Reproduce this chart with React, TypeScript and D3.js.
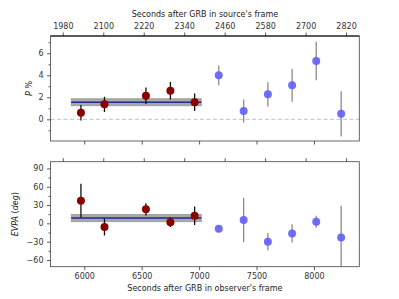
import { useEffect, useRef } from 'react';
import { axisBottom, axisLeft, axisTop, range, scaleLinear, select } from 'd3';

// observer-frame times (s) and measurements
const obsTime = [5971, 6176, 6537, 6750, 6961, 7171, 7388, 7599, 7810, 8020, 8237];
const polarization = [0.6, 1.36, 2.15, 2.6, 1.55, 4.0, 0.75, 2.27, 3.1, 5.3, 0.5];
const polErr = [0.7, 0.7, 0.75, 0.8, 0.8, 0.9, 1.05, 1.1, 1.5, 1.75, 2.05];
const evpa = [37, -6, 23, 2, 12.5, -9, 5.4, -30, -16.5, 2.6, -23];
const evpaErr = [28, 14, 10, 8, 15, 4, 36, 14, 15, 10, 52];
const nEarly = 5;

// weighted mean over early epochs
const meanSpan = [5887, 7019];
const meanP = [1.55, 0.32];
const meanEvpa = [8.7, 6];

const oneZ = 2.936;
const obsTicks = [6000, 6500, 7000, 7500, 8000];
const srcTicks = [1980, 2100, 2220, 2340, 2460, 2580, 2700, 2820];
const pTicks = [0, 2, 4, 6];
const pMinor = [-1, 1, 3, 5, 7];
const evpaTicks = [-60, -30, 0, 30, 60, 90];
const evpaMinor = [-45, -15, 15, 45, 75];

const W = 399;
const H = 299;
const left = 50.5;
const right = 359.3;
const panels = [
  { top: 36, bottom: 141 },
  { top: 161.7, bottom: 266.7 },
];

const font = 'DejaVu Sans, sans-serif';
const fmt = (d: any) => (d < 0 ? `\u2212${-d}` : `${d}`);

export default function App() {
  const svgRef = useRef<SVGSVGElement>(null);

  useEffect(() => {
    const svg = select(svgRef.current);
    svg.selectAll('*').remove();

    const x = scaleLinear().domain([5706, 8395]).range([left, right]);
    const xs = scaleLinear()
      .domain([5706 / oneZ, 8395 / oneZ])
      .range([left, right]);

    const yP = scaleLinear().domain([-1.97, 7.57]).range([panels[0].bottom, panels[0].top]);
    const yE = scaleLinear().domain([-71, 101]).range([panels[1].bottom, panels[1].top]);

    const styleAxis = (g: any, noLabels = false) => {
      g.select('.domain').remove();
      g.selectAll('line').attr('stroke', '#333').attr('stroke-width', 0.8);
      g.selectAll('text')
        .attr('fill', '#333')
        .style('font-family', font)
        .style('font-size', '8px');
      if (noLabels) g.selectAll('text').remove();
    };

    const drawPanel = (
      idx: number,
      y: any,
      vals: number[],
      errs: number[],
      mean: number[],
      ticks: number[],
      minor: number[],
      yLabel: string,
      yLabelX: number,
    ) => {
      const { top, bottom } = panels[idx];
      const g = svg.append('g');

      // mean band
      g.append('rect')
        .attr('x', x(meanSpan[0]))
        .attr('y', y(mean[0] + mean[1]))
        .attr('width', x(meanSpan[1]) - x(meanSpan[0]))
        .attr('height', y(mean[0] - mean[1]) - y(mean[0] + mean[1]))
        .attr('fill', '#a9a9a9')
        .attr('stroke', '#999')
        .attr('stroke-width', 0.8);
      g.append('line')
        .attr('x1', x(meanSpan[0]))
        .attr('x2', x(meanSpan[1]))
        .attr('y1', y(mean[0]))
        .attr('y2', y(mean[0]))
        .attr('stroke', '#1c2a94')
        .attr('stroke-width', 1.6);

      if (idx === 0) {
        g.append('line')
          .attr('x1', left)
          .attr('x2', right)
          .attr('y1', y(0))
          .attr('y2', y(0))
          .attr('stroke', '#b0b0b0')
          .attr('stroke-width', 0.8)
          .attr('stroke-dasharray', '4,2.5');
      }

      const clipId = `clip${idx}`;
      svg
        .append('clipPath')
        .attr('id', clipId)
        .append('rect')
        .attr('x', left)
        .attr('y', top)
        .attr('width', right - left)
        .attr('height', bottom - top);

      const pts = range(vals.length);
      g.append('g')
        .attr('clip-path', `url(#${clipId})`)
        .selectAll('line')
        .data(pts)
        .join('line')
        .attr('x1', (i) => x(obsTime[i]))
        .attr('x2', (i) => x(obsTime[i]))
        .attr('y1', (i) => y(vals[i] - errs[i]))
        .attr('y2', (i) => y(vals[i] + errs[i]))
        .attr('stroke', (i) => (i < nEarly ? '#111' : '#8a8a8a'))
        .attr('stroke-width', 1.3);

      g.append('g')
        .selectAll('circle')
        .data(pts)
        .join('circle')
        .attr('cx', (i) => x(obsTime[i]))
        .attr('cy', (i) => y(vals[i]))
        .attr('r', 4)
        .attr('fill', (i) => (i < nEarly ? '#8b0000' : '#5f5ff7'))
        .attr('fill-opacity', (i) => (i < nEarly ? 1 : 0.9));

      // spines
      svg.append('rect')
        .attr('x', left)
        .attr('y', top)
        .attr('width', right - left)
        .attr('height', bottom - top)
        .attr('fill', 'none')
        .attr('stroke', '#444')
        .attr('stroke-width', 0.8);

      // y axis
      const ya = svg.append('g').attr('transform', `translate(${left},0)`);
      ya.call(axisLeft(y).tickValues(ticks).tickSize(3.5).tickPadding(3.5).tickFormat(fmt));
      styleAxis(ya);
      const ym = svg.append('g').attr('transform', `translate(${left},0)`);
      ym.call(axisLeft(y).tickValues(minor).tickSize(2).tickFormat(() => ''));
      styleAxis(ym, true);

      // bottom (observer) axis
      const xb = svg.append('g').attr('transform', `translate(0,${bottom})`);
      xb.call(axisBottom(x).tickValues(obsTicks).tickSize(3.5).tickPadding(3.5).tickFormat(fmt));
      styleAxis(xb, idx === 0);

      // top (source) axis
      const xt = svg.append('g').attr('transform', `translate(0,${top})`);
      xt.call(axisTop(xs).tickValues(srcTicks).tickSize(3.5).tickPadding(3.5).tickFormat(fmt));
      styleAxis(xt, idx === 1);

      svg.append('text')
        .attr('transform', `translate(${yLabelX},${(top + bottom) / 2}) rotate(-90)`)
        .attr('text-anchor', 'middle')
        .attr('dy', '0.35em')
        .style('font-family', font)
        .style('font-size', '8px')
        .attr('fill', '#222')
        .html(yLabel);
    };

    drawPanel(0, yP, polarization, polErr, meanP, pTicks, pMinor,
      '<tspan font-style="italic">P</tspan> %', 29);
    drawPanel(1, yE, evpa, evpaErr, meanEvpa, evpaTicks, evpaMinor,
      '<tspan font-style="italic">EVPA</tspan> (<tspan font-style="italic">deg</tspan>)', 15);

    // top spine of upper panel is drawn twice (twin axes)
    svg.append('line')
      .attr('x1', left)
      .attr('x2', right)
      .attr('y1', panels[0].top)
      .attr('y2', panels[0].top)
      .attr('stroke', '#000')
      .attr('stroke-width', 1.2);

    svg.append('text')
      .attr('x', (left + right) / 2)
      .attr('y', 17)
      .attr('text-anchor', 'middle')
      .style('font-family', font)
      .style('font-size', '8px')
      .attr('fill', '#222')
      .text("Seconds after GRB in source's frame");

    svg.append('text')
      .attr('x', (left + right) / 2)
      .attr('y', 291)
      .attr('text-anchor', 'middle')
      .style('font-family', font)
      .style('font-size', '8px')
      .attr('fill', '#222')
      .text("Seconds after GRB in observer's frame");
  }, []);

  return (
    <div>
      <svg
        ref={svgRef}
        width={W}
        height={H}
        style={{ position: 'absolute', left: 0, top: 0, background: '#fff' }}
      />
    </div>
  );
}
